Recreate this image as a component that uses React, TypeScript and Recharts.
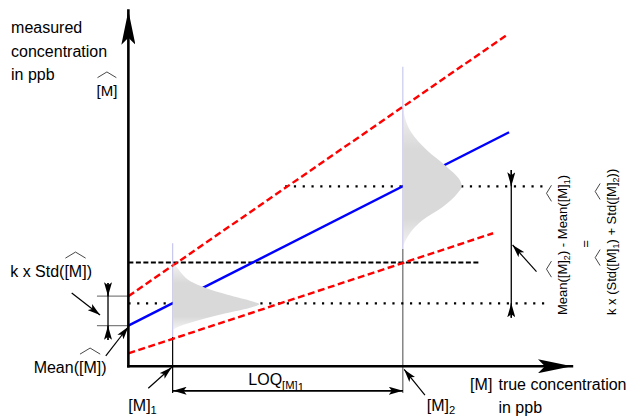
import React from "react"
import { ComposedChart, Line, Scatter, XAxis, YAxis } from "recharts"

const FONT = '"Liberation Sans", Arial, Helvetica, sans-serif'

// schematic units: x = true concentration, y = measured concentration
const X_DOMAIN = [-2.9, 11.4]
const Y_DOMAIN = [-1.4, 10.3]

const M1 = 1.0
const M2 = 6.2
const MEAN1 = 1.77
const MEAN2 = 5.06
const LOQ_LEVEL = 2.92

const calibration = [{ x: 0, y: 1.14 }, { x: 8.6, y: 6.58 }]
const upperBound = [{ x: 0, y: 1.97 }, { x: 8.58, y: 9.34 }]
const lowerBound = [{ x: 0, y: 0.36 }, { x: 8.24, y: 3.74 }]

// distribution of the measured value at [M]1 and [M]2 (offset from mean, width)
const dist1Offsets = [1.14, 0.99, 0.8, 0.61, 0.43, 0.24, 0.05, -0.02, -0.13, -0.28, -0.42, -0.56, -0.65, -0.75]
const dist1Widths = [0, 0.11, 0.23, 0.41, 0.75, 1.24, 1.81, 1.96, 1.73, 1.2, 0.75, 0.36, 0.14, 0]
const dist2Offsets = [2.24, 1.5, 1.02, 0.55, 0.17, 0, -0.19, -0.58, -0.95, -1.32, -1.7]
const dist2Widths = [0, 0.2, 0.54, 0.99, 1.29, 1.33, 1.24, 0.9, 0.45, 0.16, 0]

const dist1 = dist1Offsets.map((o, i) => ({ x: M1 + dist1Widths[i], y: MEAN1 + o }))
const dist2 = dist2Offsets.map((o, i) => ({ x: M2 + dist2Widths[i], y: MEAN2 + o }))

// segments [x1, y1, x2, y2]
const axes = [[0, 0, 0, 10.0], [0, 0, 10.02, 0]]
const dotted = [[0, MEAN1, 9.4, MEAN1], [3.54, MEAN2, 9.4, MEAN2]]
const loqDashed = [[0, LOQ_LEVEL, 7.94, LOQ_LEVEL]]
const lightVerticals = [[M1, 3.46, M1, 0.82], [M2, 8.42, M2, 3.3]]
const darkVerticals = [[M1, 0.82, M1, -0.75]]
const grayVerticals = [[M2, 3.3, M2, -0.75]]
const stdTicks = [[-0.71, 1.97, 0, 1.97], [-0.71, 1.14, 0, 1.14]]
const dimLines = [[-0.46, 2.34, -0.46, 0.74], [8.65, 5.52, 8.65, 1.36], [M1, -0.69, M2, -0.69]]
const dimHeads = [
  [-0.46, 2.34, -0.46, 1.97], [-0.46, 0.74, -0.46, 1.14],
  [8.65, 5.52, 8.65, MEAN2], [8.65, 1.36, 8.65, MEAN1],
  [3.6, -0.69, M1, -0.69], [3.6, -0.69, M2, -0.69],
]
const pointers = [
  [-1.28, 2.06, -0.64, 1.44],
  [-0.51, 0.29, 0.0, 1.11],
  [0.45, -0.62, 0.98, -0.03],
  [6.7, -0.81, 6.23, -0.09],
  [9.22, 2.66, 8.68, 3.41],
]

type Part = string | { t: string; hat?: boolean; sub?: number }
type LabelItem = { x: number; y: number; lines: Part[][]; size?: number; rotate?: number; anchor?: string }

const hatM = { t: "[M]", hat: true }
const labels: LabelItem[] = [
  { x: -2.65, y: 9.36, lines: [["measured"], ["concentration"], ["in ppb"]] },
  { x: -0.72, y: 7.61, size: 15, lines: [[hatM]] },
  { x: -2.67, y: 2.5, lines: [["k x Std(", hatM, ")"]] },
  { x: -2.14, y: -0.2, lines: [["Mean(", hatM, ")"]] },
  { x: 0.0, y: -1.25, lines: [["[M]", { t: "1", sub: 1 }]] },
  { x: 2.71, y: -0.53, lines: [["LOQ", { t: "[M]", sub: 1 }, { t: "1", sub: 2 }]] },
  { x: 6.74, y: -1.25, lines: [["[M]", { t: "2", sub: 1 }]] },
  { x: 7.72, y: -0.67, lines: [["[M]"]] },
  { x: 8.36, y: -0.67, lines: [["true concentration"], ["in ppb"]] },
  { x: 9.91, y: 1.44, size: 13, rotate: -90, lines: [["Mean(", hatM, { t: "2", sub: 1 }, ") - Mean(", hatM, { t: "1", sub: 1 }, ")"]] },
  { x: 10.43, y: 3.44, size: 13, rotate: -90, anchor: "middle", lines: [["="]] },
  { x: 11.01, y: 1.44, size: 13, rotate: -90, lines: [["k x (Std(", hatM, { t: "1", sub: 1 }, ") + Std(", hatM, { t: "2", sub: 1 }, "))"]] },
]

let ctx: CanvasRenderingContext2D | null = null
function measure(t: string, size: number) {
  if (!ctx) ctx = document.createElement("canvas").getContext("2d")
  if (!ctx) return t.length * size * 0.5
  ctx.font = `${size}px ${FONT}`
  return ctx.measureText(t).width
}

function renderLabel(props: any) {
  const { cx, cy, payload } = props
  const item: LabelItem = payload
  const size = item.size ?? 16
  const out: React.ReactNode[] = []
  item.lines.forEach((line, li) => {
    const parts = line.map((p) => (typeof p === "string" ? { t: p } : p))
    const sizes = parts.map((p) => (p.sub ? size * 0.7 : size))
    const widths = parts.map((p, i) => measure(p.t, sizes[i]))
    const total = widths.reduce((a, b) => a + b, 0)
    let cursor = item.anchor === "middle" ? -total / 2 : 0
    const base = li * size * 1.46
    parts.forEach((p, i) => {
      const dy = p.sub === 2 ? size * 0.36 : p.sub ? size * 0.22 : 0
      out.push(
        <text key={`${li}-${i}`} x={cursor} y={base + dy} fontSize={sizes[i]} fontFamily={FONT} fill="#000">
          {p.t}
        </text>
      )
      if (p.hat) {
        const w = widths[i]
        out.push(
          <path
            key={`${li}-${i}h`}
            d={`M${cursor + 1},${base - 1.2 * size} L${cursor + w / 2},${base - 1.58 * size} L${cursor + w - 1},${base - 1.2 * size}`}
            fill="none"
            stroke="#333"
            strokeWidth={0.9}
          />
        )
      }
      cursor += widths[i]
    })
  })
  return <g transform={`translate(${cx},${cy}) rotate(${item.rotate ?? 0})`}>{out}</g>
}

type SegStyle = { stroke: string; width: number; dash?: string; head?: string; cap?: "butt" | "square" }

function segLines(list: number[][], st: SegStyle, key: string) {
  return list.map((s, i) => (
    <Line
      key={`${key}${i}`}
      data={[{ x: s[0], y: s[1] }, { x: s[2], y: s[3] }]}
      dataKey="y"
      type="linear"
      stroke={st.stroke}
      strokeWidth={st.width}
      strokeDasharray={st.dash}
      strokeLinecap={st.cap ?? "butt"}
      markerEnd={st.head ? `url(#${st.head})` : undefined}
      dot={false}
      activeDot={false}
      legendType="none"
      isAnimationActive={false}
    />
  ))
}

const noPoint = () => <g />

export default function App() {
  return (
    <div style={{ position: "fixed", left: 0, top: 0, background: "#fff" }}>
      <ComposedChart width={633} height={416} margin={{ top: 0, right: 0, bottom: 0, left: 0 }}>
        <defs>
          <linearGradient id="distFill" x1="0" y1="0" x2="0" y2="1">
            <stop offset="0" stopColor="#d9d9d9" stopOpacity={0.3} />
            <stop offset="0.3" stopColor="#d9d9d9" stopOpacity={1} />
            <stop offset="0.8" stopColor="#d9d9d9" stopOpacity={1} />
            <stop offset="1" stopColor="#d9d9d9" stopOpacity={0.3} />
          </linearGradient>
          <marker id="axisHead" viewBox="-34 -7 34 14" refX={0} refY={0} markerWidth={34} markerHeight={14} orient="auto" markerUnits="userSpaceOnUse">
            <path d="M0,0 L-34,-7 L-27,0 L-34,7 Z" fill="#000" />
          </marker>
          <marker id="dimHead" viewBox="-14 -4 14 8" refX={0} refY={0} markerWidth={14} markerHeight={8} orient="auto" markerUnits="userSpaceOnUse">
            <path d="M0,0 L-14,-4 L-11,0 L-14,4 Z" fill="#000" />
          </marker>
          <marker id="ptrHead" viewBox="-13 -4 13 8" refX={0} refY={0} markerWidth={13} markerHeight={8} orient="auto" markerUnits="userSpaceOnUse">
            <path d="M0,0 L-13,-3.8 L-10,0 L-13,3.8 Z" fill="#000" />
          </marker>
        </defs>
        <XAxis type="number" dataKey="x" domain={X_DOMAIN} allowDataOverflow hide />
        <YAxis type="number" dataKey="y" domain={Y_DOMAIN} allowDataOverflow hide />

        <Scatter data={dist1} dataKey="y" fill="none" shape={noPoint} line={{ stroke: "none", fill: "url(#distFill)" }} lineJointType="monotoneY" isAnimationActive={false} />
        <Scatter data={dist2} dataKey="y" fill="none" shape={noPoint} line={{ stroke: "none", fill: "url(#distFill)" }} lineJointType="monotoneY" isAnimationActive={false} />

        {segLines(lightVerticals, { stroke: "#c8c8f0", width: 1.2 }, "lv")}
        {segLines(darkVerticals, { stroke: "#000", width: 1.2 }, "dv")}
        {segLines(grayVerticals, { stroke: "#666", width: 1.2 }, "gv")}
        {segLines(dotted, { stroke: "#000", width: 2.2, dash: "2.2 6.6" }, "dt")}
        {segLines(loqDashed, { stroke: "#000", width: 2, dash: "5 2.5" }, "ld")}

        <Line data={upperBound} dataKey="y" type="linear" stroke="#ff0000" strokeWidth={2.4} strokeDasharray="7 3.5" dot={false} activeDot={false} isAnimationActive={false} />
        <Line data={lowerBound} dataKey="y" type="linear" stroke="#ff0000" strokeWidth={2.4} strokeDasharray="7 3.5" dot={false} activeDot={false} isAnimationActive={false} />
        <Line data={calibration} dataKey="y" type="linear" stroke="#0000ff" strokeWidth={2.4} dot={false} activeDot={false} isAnimationActive={false} />

        {segLines(stdTicks, { stroke: "#808080", width: 1.2 }, "st")}
        {segLines(axes, { stroke: "#000", width: 2.6, head: "axisHead", cap: "square" }, "ax")}
        {segLines(dimLines, { stroke: "#000", width: 1.3 }, "dl")}
        {segLines(dimHeads, { stroke: "#000", width: 1.3, head: "dimHead" }, "dh")}
        {segLines(pointers, { stroke: "#000", width: 1.2, head: "ptrHead" }, "pt")}

        <Scatter data={labels} dataKey="y" shape={renderLabel} isAnimationActive={false} />
      </ComposedChart>
    </div>
  )
}
